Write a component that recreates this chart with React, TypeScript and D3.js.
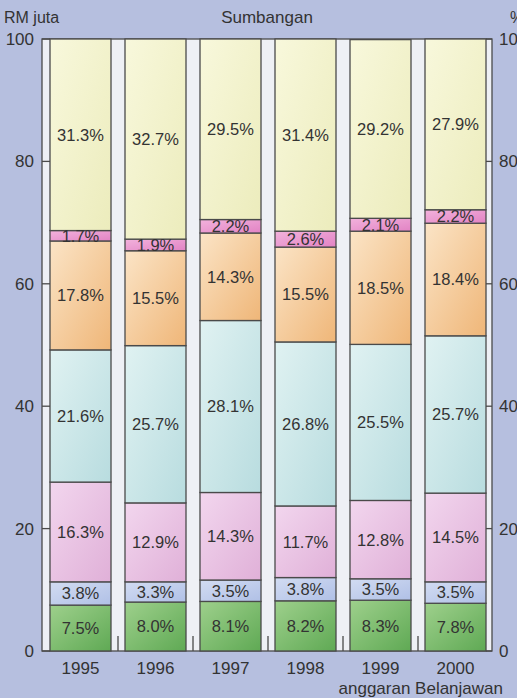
import * as d3 from "d3";
import { useEffect, useRef } from "react";

const YEARS = ["1995", "1996", "1997", "1998", "1999", "2000"];

// bottom to top
const SERIES = ["hijau", "biru", "ungu", "sian", "jingga", "merahJambu", "kuning"];
const GREEN = [7.5, 8.0, 8.1, 8.2, 8.3, 7.8];
const BLUE = [3.8, 3.3, 3.5, 3.8, 3.5, 3.5];
const LIGHT_PINK = [16.3, 12.9, 14.3, 11.7, 12.8, 14.5];
const CYAN = [21.6, 25.7, 28.1, 26.8, 25.5, 25.7];
const ORANGE = [17.8, 15.5, 14.3, 15.5, 18.5, 18.4];
const PINK = [1.7, 1.9, 2.2, 2.6, 2.1, 2.2];
const YELLOW = [31.3, 32.7, 29.5, 31.4, 29.2, 27.9];

const Y_TICKS = [0, 20, 40, 60, 80, 100];

const FILLS: [string, string][] = [
  ["#9ed08c", "#5fa954"],
  ["#d2dcf2", "#b0c0e6"],
  ["#f2d6ee", "#e0b0d8"],
  ["#e0f2f2", "#b8dcdf"],
  ["#fbe4c6", "#efb678"],
  ["#f2b2dc", "#e283c4"],
  ["#f8f8dc", "#ececbc"],
];

const W = 517;
const H = 698;
const FONT = "'Liberation Sans', Arial, sans-serif";

export default function App() {
  const ref = useRef<SVGSVGElement>(null);

  useEffect(() => {
    if (!ref.current) return;
    const svg = d3.select(ref.current);
    svg.selectAll("*").remove();

    const values = [GREEN, BLUE, LIGHT_PINK, CYAN, ORANGE, PINK, YELLOW];
    const rows = YEARS.map((year, i) => {
      const row: Record<string, number | string> = { year };
      SERIES.forEach((s, k) => (row[s] = values[k][i]));
      return row;
    });
    const stacked = d3.stack<Record<string, number | string>>().keys(SERIES)(rows);

    const x = d3.scaleBand().domain(YEARS).range([50, 486]).paddingInner(14 / 75).paddingOuter(0);
    const y = d3.scaleLinear().domain([0, 100]).range([651, 39]);

    svg.append("rect").attr("width", W).attr("height", H).attr("fill", "#b6bfdf");

    const defs = svg.append("defs");
    FILLS.forEach(([a, b], k) => {
      const g = defs
        .append("linearGradient")
        .attr("id", `g${k}`)
        .attr("x1", "0")
        .attr("y1", "0")
        .attr("x2", "1")
        .attr("y2", "1");
      g.append("stop").attr("offset", "0").attr("stop-color", a);
      g.append("stop").attr("offset", "1").attr("stop-color", b);
    });

    // frame
    svg
      .append("rect")
      .attr("x", 42)
      .attr("y", y(100))
      .attr("width", 450)
      .attr("height", y(0) - y(100))
      .attr("fill", "#eef0f5")
      .attr("stroke", "#4a4a4a")
      .attr("stroke-width", 1.3);

    // side ticks
    const ticks = svg.append("g").attr("stroke", "#4a4a4a").attr("stroke-width", 1.3);
    Y_TICKS.forEach((t) => {
      ticks.append("line").attr("x1", 42).attr("x2", 50).attr("y1", y(t)).attr("y2", y(t));
      ticks.append("line").attr("x1", 486).attr("x2", 492).attr("y1", y(t)).attr("y2", y(t));
    });
    // gap ticks at bottom
    YEARS.slice(1).forEach((yr) => {
      const gx = (x(yr) ?? 0) - x.step() * (14 / 75) / 2;
      ticks.append("line").attr("x1", gx).attr("x2", gx).attr("y1", y(0)).attr("y2", y(0) - 15);
    });

    // segments
    stacked.forEach((layer, k) => {
      const g = svg.append("g");
      g.selectAll("rect")
        .data(layer)
        .join("rect")
        .attr("x", (d) => x(d.data.year as string) ?? 0)
        .attr("width", x.bandwidth())
        .attr("y", (d) => y(d[1]))
        .attr("height", (d) => y(d[0]) - y(d[1]))
        .attr("fill", `url(#g${k})`)
        .attr("stroke", "#4a4a4a")
        .attr("stroke-width", 1.3);
    });

    // labels
    stacked.forEach((layer) => {
      svg
        .append("g")
        .selectAll("text")
        .data(layer)
        .join("text")
        .attr("x", (d) => (x(d.data.year as string) ?? 0) + x.bandwidth() / 2)
        .attr("y", (d) => y((d[0] + d[1]) / 2))
        .attr("dy", "0.36em")
        .attr("text-anchor", "middle")
        .attr("font-family", FONT)
        .attr("font-size", 16.5)
        .attr("fill", "#333")
        .text((d) => `${(d[1] - d[0]).toFixed(1)}%`);
    });

    const txt = (tx: number, ty: number, s: string, anchor = "start", size = 17) =>
      svg
        .append("text")
        .attr("x", tx)
        .attr("y", ty)
        .attr("text-anchor", anchor)
        .attr("font-family", FONT)
        .attr("font-size", size)
        .attr("fill", "#333")
        .text(s);

    Y_TICKS.forEach((t) => {
      txt(34, y(t) + 6, String(t), "end");
      txt(499, y(t) + 6, String(t), "start");
    });
    txt(4, 23, "RM juta", "start", 16);
    txt(267, 23, "Sumbangan", "middle", 17);
    txt(510, 23, "%", "start", 16);
    YEARS.forEach((yr) => txt((x(yr) ?? 0) + x.bandwidth() / 2, 674, yr, "middle", 17));
    txt(503, 694, "anggaran Belanjawan", "end", 17);
  }, []);

  return (
    <svg
      ref={ref}
      width={W}
      height={H}
      style={{ position: "absolute", left: 0, top: 0, display: "block" }}
    />
  );
}
